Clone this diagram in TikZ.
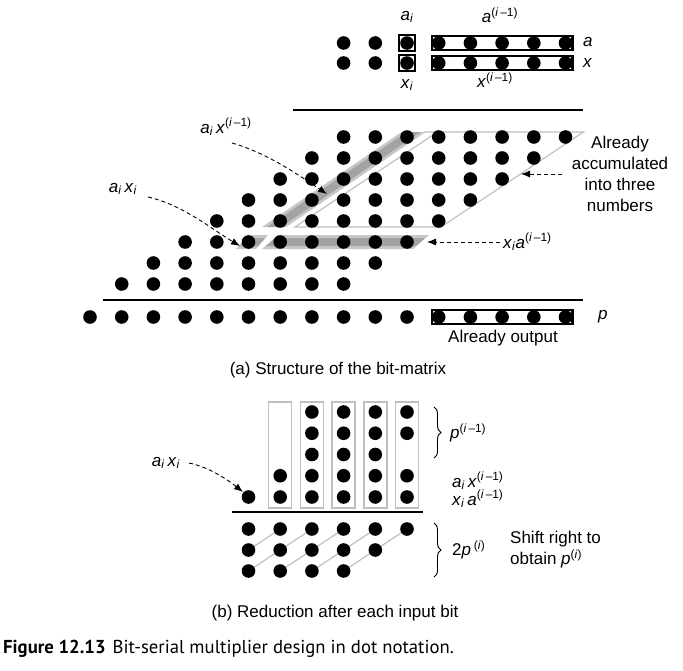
\documentclass[tikz,border=0pt]{standalone}
\usepackage{fontspec}
\setmainfont{Liberation Sans}
\newfontfamily\capfont{PT Sans}
\usetikzlibrary{decorations.pathreplacing,arrows.meta}
\pgfdeclarelayer{bg}
\pgfsetlayers{bg,main}
\newcommand{\mi}[1]{\textit{#1}}
\newcommand{\lsub}[1]{\textsubscript{\textit{#1}}}
\newcommand{\imo}{\textsuperscript{(\textit{i}\,–1)}}
\newcommand{\isup}{\textsuperscript{(\textit{i})}}
\begin{document}
\begin{tikzpicture}[x=1pt,y=-1pt,
  dot/.style={circle,fill=black,inner sep=0pt,minimum size=13.6pt},
  lbl/.style={inner sep=0pt,font=\fontsize{17}{21}\selectfont},
  rulest/.style={line width=1.3pt},
  dasharrow/.style={dash pattern=on 4pt off 3pt,line width=0.9pt,-{Latex[length=9pt,width=7pt]}},
  outl/.style={draw=black!25,line width=1.2pt},
  bandouter/.style={fill=black!22},
  bandinner/.style={fill=black!36},
  regbox/.style={draw=black!25,line width=1.5pt},
  gline/.style={draw=black!25,line width=1.2pt},
  boxst/.style={line width=2.2pt},
  bracest/.style={decorate,decoration={brace,amplitude=7pt},line width=0.9pt}
]
\useasboundingbox (0,0) rectangle (683,670);

% ---------- part (a): backgrounds ----------
\begin{pgfonlayer}{bg}
  % diagonal band a_i x^(i-1)
  \fill[bandouter] (262,227) -- (286,227) -- (425.5,132) -- (401.5,132) -- cycle;
  \fill[bandinner] (267,227) -- (281,227) -- (420.5,132) -- (406.5,132) -- cycle;
  % horizontal band x_i a^(i-1)
  \fill[bandouter] (262,249) -- (413,249) -- (429,235) -- (278,235) -- cycle;
  \fill[bandinner] (266,246) -- (416,246) -- (425,238) -- (275,238) -- cycle;
  % small piece a_i x_i
  \fill[bandouter] (236,249) -- (256,249) -- (268,235) -- (248,235) -- cycle;
  \fill[bandinner] (240,246) -- (258,246) -- (265,238) -- (247,238) -- cycle;
  % outline of accumulated region
  \draw[outl] (424,132) -- (583.5,132) -- (441,227) -- (295,227) -- (437.5,132);
\end{pgfonlayer}

% ---------- top rows a and x ----------
\foreach \c in {8,...,15}{
  \node[dot] (a-\c) at ({90+31.7*\c},43) {};
  \node[dot] (x-\c) at ({90+31.7*\c},63) {};
}
\node[draw,line width=1.4pt,minimum size=16pt,inner sep=0pt] (sqa) at (a-10) {};
\node[draw,line width=1.4pt,minimum size=16pt,inner sep=0pt] (sqx) at (x-10) {};
\draw[boxst] (a-11.west |- a-11.north) rectangle (a-15.east |- a-15.south);
\draw[boxst] (x-11.west |- x-11.north) rectangle (x-15.east |- x-15.south);

\node[lbl] (lai) at (407,17) {\mi{a}\lsub{i}};
\node[lbl] (laim) at (500,15) {\mi{a}\imo};
\node[lbl,anchor=west] (la) at (583,42) {\mi{a}};
\node[lbl,anchor=west] (lx) at (583,63) {\mi{x}};
\node[lbl] (lxi) at (407,85) {\mi{x}\lsub{i}};
\node[lbl] (lxim) at (495,80) {\mi{x}\imo};

\coordinate (r1a) at (293,110);
\coordinate (r1b) at (583,110);
\draw[rulest] (r1a) -- (r1b);

% ---------- bit matrix ----------
\foreach \r in {0,...,7}{
  \pgfmathtruncatemacro{\colS}{8-\r}
  \pgfmathtruncatemacro{\colE}{15-\r}
  \foreach \c in {\colS,...,\colE}{
    \node[dot] (m-\r-\c) at ({90+31.7*\c},{137+21*\r}) {};
  }
}

\coordinate (r2a) at (103,300);
\coordinate (r2b) at (583,300);
\draw[rulest] (r2a) -- (r2b);

% ---------- p row ----------
\foreach \c in {0,...,15}{
  \node[dot] (p-\c) at ({90+31.7*\c},317) {};
}
\draw[boxst] (p-11.west |- p-11.north) rectangle (p-15.east |- p-15.south);
\node[lbl,anchor=west] (lp) at (598,317) {\mi{p}};
\node[lbl] (lout) at (503,338) {Already output};

% ---------- labels and arrows of (a) ----------
\node[lbl] (laxim) at (226,127) {\mi{a}\lsub{i}\,\mi{x}\imo};
\coordinate (s1) at (232,143);
\coordinate (t1) at (327,194);
\draw[dasharrow] (s1) .. controls +(35,10) and +(-30,-20) .. (t1);

\node[lbl] (laxi) at (123,189) {\mi{a}\lsub{i}\,\mi{x}\lsub{i}};
\coordinate (s2) at (148,197);
\coordinate (t2) at (240,246);
\draw[dasharrow] (s2) .. controls +(35,8) and +(-30,-18) .. (t2);

\node[lbl,anchor=west] (lxa) at (503,242) {\mi{x}\lsub{i}\mi{a}\imo};
\coordinate (t3) at (427,242);
\draw[dasharrow,shorten <=3pt] (lxa.west) -- (t3);

\node[lbl,align=center] (lacc) at (620,174) {Already\\accumulated\\into three\\numbers};
\coordinate (s4) at (562,174);
\coordinate (t4) at (521,174);
\draw[dasharrow] (s4) -- (t4);

\node[lbl] (capa) at (338,370) {(a) Structure of the bit-matrix};

% ---------- part (b) ----------
\foreach \c in {6,...,10}{
  \draw[regbox] ({90+31.7*\c-11.5},402) rectangle ({90+31.7*\c+11.5},508);
}
\foreach \c/\k in {5/4,6/3,6/4,7/0,7/1,7/2,7/3,7/4,8/0,8/1,8/2,8/3,8/4,9/0,9/1,9/2,9/3,9/4,10/0,10/1,10/3,10/4}{
  \node[dot] (b-\c-\k) at ({90+31.7*\c},{412+21.25*\k}) {};
}
\coordinate (r3a) at (232,512);
\coordinate (r3b) at (423,512);
\draw[rulest] (r3a) -- (r3b);

\foreach \k/\ce in {0/10,1/9,2/8}{
  \foreach \c in {5,...,\ce}{
    \node[dot] (q-\k-\c) at ({90+31.7*\c},{529+21*\k}) {};
  }
}
\begin{pgfonlayer}{bg}
  \draw[gline] (q-1-5.center) -- (q-0-6.center);
  \draw[gline] (q-2-5.center) -- (q-0-7.center);
  \draw[gline] (q-2-6.center) -- (q-0-8.center);
  \draw[gline] (q-2-7.center) -- (q-0-9.center);
  \draw[gline] (q-2-8.center) -- (q-0-10.center);
\end{pgfonlayer}

\coordinate (br1a) at (434,407);
\coordinate (br1b) at (434,458);
\draw[bracest] (br1a) -- (br1b);
\coordinate (br2a) at (434,523);
\coordinate (br2b) at (434,577);
\draw[bracest] (br2a) -- (br2b);

\node[lbl,anchor=west] (lpim) at (450,433) {\mi{p}\imo};
\node[lbl,anchor=west] (lb1) at (452,481) {\mi{a}\lsub{i}\,\mi{x}\imo};
\node[lbl,anchor=west] (lb2) at (452,499) {\mi{x}\lsub{i}\,\mi{a}\imo};
\node[lbl,anchor=west] (l2p) at (452,550) {2\mi{p}\,\isup};
\node[lbl,anchor=west,align=left] (lshift) at (510,550) {Shift right to\\obtain \mi{p}\isup};

\node[lbl] (laxib) at (166,463) {\mi{a}\lsub{i}\,\mi{x}\lsub{i}};
\coordinate (s5) at (189,463);
\coordinate (t5) at (243,492);
\draw[dasharrow] (s5) .. controls +(20,4) and +(-15,-12) .. (t5);

\node[lbl] (capb) at (335,613) {(b) Reduction after each input bit};

% ---------- caption ----------
\node[anchor=west,inner sep=0pt,font=\capfont\fontsize{18.7}{22}\selectfont] (fig) at (3,649)
  {\textbf{Figure 12.13}\hspace{7pt}Bit-serial multiplier design in dot notation.};
\end{tikzpicture}
\end{document}
